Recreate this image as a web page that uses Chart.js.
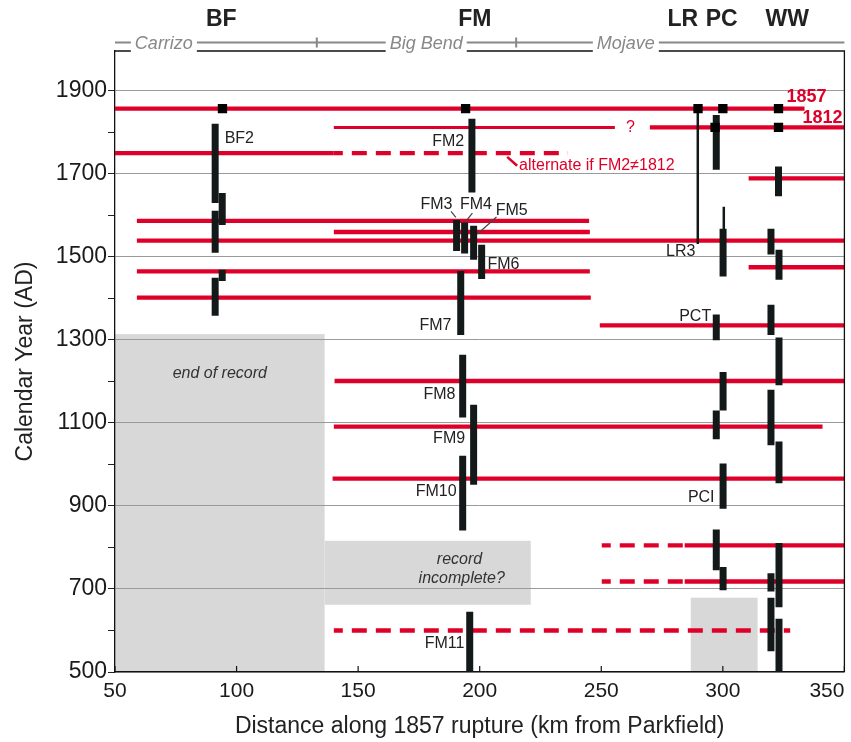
<!DOCTYPE html>
<html>
<head>
<meta charset="utf-8">
<script src="https://cdn.jsdelivr.net/npm/chart.js@4.4.0/dist/chart.umd.min.js"></script>
<style>
  html, body { margin: 0; background: #fff; }
  canvas { display: block; }
</style>
</head>
<body>
<canvas id="chart" width="851" height="742"></canvas>
<script>
// axis ticks
const xTicks = [50, 100, 150, 200, 250, 300, 350];
const yTicks = [500, 600, 700, 800, 900, 1000, 1100, 1200, 1300, 1400, 1500, 1600, 1700, 1800, 1900];
const yLabelled = [500, 700, 900, 1100, 1300, 1500, 1700, 1900];

// ruptures: [year, from km, to km]
const ruptures = [
  [1857, 50, 333.6], [1812, 270, 350], [1750, 50, 140], [1689, 310.6, 350],
  [1587, 59, 245], [1560, 140, 245.3], [1539, 59, 350], [1475, 310.6, 350],
  [1465, 59, 245.3], [1402, 59, 245.7], [1335, 249.4, 350], [1201, 140.3, 350],
  [1091, 140, 341], [966, 139.5, 350], [805, 284.3, 350], [718, 284.3, 350]
];
const ruptureUncertain = [[1812, 140, 255.6]];
const ruptureDashed = [[1750, 140, 236.3], [805, 250.2, 284.3], [718, 250.2, 284.3], [600, 140, 327.7]];

// dated event windows: [km, young year, old year]
const eventBars = [
  // BF
  [91.2, 1821, 1630], [94.1, 1654, 1577], [91.2, 1611, 1510], [94.1, 1469, 1442], [91.2, 1450, 1358],
  // FM
  [196.8, 1833, 1655], [190.5, 1589, 1514], [193.8, 1583, 1508], [197.5, 1575, 1493], [200.8, 1529, 1447],
  [192.2, 1466, 1312], [193, 1264, 1113], [197.5, 1144, 951], [193, 1021, 841], [195.9, 645, 500],
  // PC
  [297.3, 1842, 1710], [300.1, 1568, 1453], [297.3, 1361, 1299], [300.1, 1223, 1130], [297.3, 1130, 1061],
  [300.1, 1002, 893], [297.3, 843, 745], [300.1, 753, 697],
  // WW
  [322.9, 1718, 1646], [319.8, 1568, 1506], [323.1, 1517, 1445], [319.8, 1385, 1312], [323.1, 1306, 1191],
  [319.8, 1180, 1046], [323.1, 1055, 955], [323.1, 811, 656], [319.8, 738, 694], [319.8, 679, 550], [323.1, 628, 500]
];
const thinBars = [[289.7, 1857, 1531], [300.4, 1621, 1457]];
const squares1857 = [94.2, 194.2, 289.8, 300, 322.9];
const squares1812 = [296.8, 322.9];

// shaded: [from km, to km, from year, to year]
const grayBoxes = [[50, 136.2, 500, 1314], [136.2, 221, 662, 816], [286.8, 314.3, 500, 679]];

const sites = [['BF', 93.7], ['FM', 198], ['LR', 283.5], ['PC', 299.5], ['WW', 326.5]];
const sections = [['Carrizo', 70.1], ['Big Bend', 178], ['Mojave', 260.1]];
const sectionBreaks = [133, 215];

// [text, km, year, align]
const eventLabels = [
  ['BF2', 95.1, 1784, 'left'], ['FM2', 193.6, 1778, 'right'], ['FM3', 188.8, 1625, 'right'],
  ['FM4', 191.9, 1625, 'left'], ['FM5', 206.6, 1611, 'left'], ['FM6', 203.2, 1481, 'left'],
  ['LR3', 288.7, 1513, 'right'], ['FM7', 188.4, 1334, 'right'], ['PCT', 295.2, 1357, 'right'],
  ['FM8', 190, 1168, 'right'], ['FM9', 194, 1062, 'right'], ['FM10', 190.5, 934, 'right'],
  ['PCI', 296.6, 919, 'right'], ['FM11', 193.7, 568, 'right']
];
const noteLabels = [['end of record', 93.1, 1220], ['record', 191.7, 772], ['incomplete?', 192.6, 725]];
const redLabels = [['?', 262, 1811, 'center'], ['alternate if FM2\u22601812', 216.2, 1720, 'left']];
const yearLabels = [['1857', 326.2, 1884], ['1812', 332.8, 1834]];
// [km1, year1, km2, year2]
const leaders = [[188.2, 1609.5, 190.2, 1595], [197, 1605.7, 194, 1584], [206.9, 1596, 199.1, 1555]];
const redLeaders = [[211.3, 1741, 215.4, 1719.5]];

const RED = '#df0029';
const BLACK = '#131819';
const FONT = "'Liberation Sans', Arial, Helvetica, sans-serif";
Chart.defaults.font.family = FONT;

const datasets = [];
datasets.push({
  type: 'scatter',
  data: squares1857.map(km => ({x: km, y: 1857})).concat(squares1812.map(km => ({x: km, y: 1812}))),
  pointStyle: 'rect', pointRadius: 6.6, backgroundColor: '#000', borderWidth: 0, order: 0
});
eventBars.forEach(([km, a, b]) => datasets.push({
  data: [{x: km, y: a}, {x: km, y: b}],
  borderColor: BLACK, borderWidth: 7, borderCapStyle: 'butt', pointRadius: 0, order: 1
}));
thinBars.forEach(([km, a, b]) => datasets.push({
  data: [{x: km, y: a}, {x: km, y: b}],
  borderColor: BLACK, borderWidth: 2.5, borderCapStyle: 'butt', pointRadius: 0, order: 1
}));
ruptures.forEach(([yr, a, b]) => datasets.push({
  data: [{x: a, y: yr}, {x: b, y: yr}],
  borderColor: RED, borderWidth: 4.3, borderCapStyle: 'butt', pointRadius: 0, order: 2
}));
ruptureUncertain.forEach(([yr, a, b]) => datasets.push({
  data: [{x: a, y: yr}, {x: b, y: yr}],
  borderColor: RED, borderWidth: 3, borderCapStyle: 'butt', pointRadius: 0, order: 2
}));
ruptureDashed.forEach(([yr, a, b]) => datasets.push({
  data: [{x: a, y: yr}, {x: b, y: yr}],
  borderColor: RED, borderWidth: 4.3, borderDash: [15, 9], borderDashOffset: 6,
  borderCapStyle: 'butt', pointRadius: 0, order: 2
}));

const decor = {
  id: 'decor',
  beforeDraw(chart) {
    const {ctx, scales: {x, y}} = chart;
    ctx.save();
    ctx.fillStyle = '#d8d8d8';
    grayBoxes.forEach(([k1, k2, y1, y2]) => {
      const px1 = x.getPixelForValue(k1), px2 = x.getPixelForValue(k2);
      const py1 = y.getPixelForValue(y2), py2 = y.getPixelForValue(y1);
      ctx.fillRect(px1, py1, px2 - px1, py2 - py1);
    });
    ctx.restore();
  },
  afterDatasetsDraw(chart) {
    const {ctx, scales: {x, y}} = chart;
    ctx.save();
    ctx.textBaseline = 'middle';
    ctx.fillStyle = '#222';
    ctx.font = '16px ' + FONT;
    eventLabels.forEach(([t, km, yr, al]) => {
      ctx.textAlign = al;
      ctx.fillText(t, x.getPixelForValue(km), y.getPixelForValue(yr));
    });
    ctx.fillStyle = '#333';
    ctx.font = 'italic 16px ' + FONT;
    ctx.textAlign = 'center';
    noteLabels.forEach(([t, km, yr]) => ctx.fillText(t, x.getPixelForValue(km), y.getPixelForValue(yr)));
    ctx.fillStyle = RED;
    ctx.font = '16px ' + FONT;
    redLabels.forEach(([t, km, yr, al]) => {
      ctx.textAlign = al;
      ctx.fillText(t, x.getPixelForValue(km), y.getPixelForValue(yr));
    });
    ctx.font = 'bold 18px ' + FONT;
    ctx.textAlign = 'left';
    yearLabels.forEach(([t, km, yr]) => ctx.fillText(t, x.getPixelForValue(km), y.getPixelForValue(yr)));

    ctx.strokeStyle = '#444';
    ctx.lineWidth = 1.2;
    leaders.forEach(([k1, y1, k2, y2]) => {
      ctx.beginPath();
      ctx.moveTo(x.getPixelForValue(k1), y.getPixelForValue(y1));
      ctx.lineTo(x.getPixelForValue(k2), y.getPixelForValue(y2));
      ctx.stroke();
    });
    ctx.strokeStyle = RED;
    ctx.lineWidth = 2.5;
    redLeaders.forEach(([k1, y1, k2, y2]) => {
      ctx.beginPath();
      ctx.moveTo(x.getPixelForValue(k1), y.getPixelForValue(y1));
      ctx.lineTo(x.getPixelForValue(k2), y.getPixelForValue(y2));
      ctx.stroke();
    });
    ctx.restore();
  },
  afterDraw(chart) {
    const {ctx, chartArea: a, scales: {x}} = chart;
    ctx.save();
    // frame top and right
    ctx.strokeStyle = '#111';
    ctx.lineWidth = 1.3;
    ctx.beginPath();
    ctx.moveTo(a.left, a.top);
    ctx.lineTo(a.right, a.top);
    ctx.lineTo(a.right, a.bottom);
    ctx.stroke();
    // inward x ticks
    ctx.lineWidth = 1.2;
    xTicks.forEach(v => {
      const px = x.getPixelForValue(v);
      ctx.beginPath();
      ctx.moveTo(px, a.bottom);
      ctx.lineTo(px, a.bottom - 6);
      ctx.stroke();
    });
    // section bar
    const sy = a.top - 8.5;
    ctx.strokeStyle = '#888';
    ctx.lineWidth = 2;
    ctx.beginPath();
    ctx.moveTo(x.getPixelForValue(50), sy);
    ctx.lineTo(x.getPixelForValue(350), sy);
    sectionBreaks.forEach(v => {
      const px = x.getPixelForValue(v);
      ctx.moveTo(px, sy - 5);
      ctx.lineTo(px, sy + 5);
    });
    ctx.stroke();
    ctx.font = 'italic 18px ' + FONT;
    ctx.textAlign = 'center';
    ctx.textBaseline = 'middle';
    sections.forEach(([t, km]) => {
      const px = x.getPixelForValue(km);
      const w = ctx.measureText(t).width;
      ctx.fillStyle = '#fff';
      ctx.fillRect(px - w / 2 - 4, sy - 10, w + 8, 20);
      ctx.fillStyle = '#888';
      ctx.fillText(t, px, sy + 1);
    });
    // site headings
    ctx.fillStyle = '#222';
    ctx.font = 'bold 23px ' + FONT;
    sites.forEach(([t, km]) => ctx.fillText(t, x.getPixelForValue(km), 20));
    ctx.restore();
  }
};

new Chart(document.getElementById('chart'), {
  type: 'line',
  data: {datasets},
  options: {
    responsive: false,
    animation: false,
    events: [],
    layout: {padding: {top: 51, right: 5, bottom: 0, left: 0}},
    plugins: {legend: {display: false}, tooltip: {enabled: false}},
    scales: {
      x: {
        type: 'linear', min: 50, max: 350,
        afterBuildTicks: s => { s.ticks = xTicks.map(v => ({value: v})); },
        afterFit: s => { s.height = 70; s.paddingLeft = 0; s.paddingRight = 0; },
        grid: {display: false},
        border: {display: true, color: '#111', width: 1.3},
        ticks: {
          autoSkip: false, maxRotation: 0, padding: -1, color: '#1a1a1a', font: {size: 21},
          callback: v => v === 350 ? '350      ' : String(v)
        },
        title: {
          display: true, text: 'Distance along 1857 rupture (km from Parkfield)',
          color: '#222', font: {size: 23, lineHeight: 1}, padding: {top: 0, bottom: 4}
        }
      },
      y: {
        type: 'linear', min: 500, max: 1996,
        afterBuildTicks: s => { s.ticks = yTicks.map(v => ({value: v})); },
        afterFit: s => { s.width = 115; s.paddingTop = 0; s.paddingBottom = 0; },
        grid: {
          color: c => c.tick && yLabelled.includes(c.tick.value) ? '#9a9a9a' : 'rgba(0,0,0,0)',
          tickColor: '#222', tickLength: 7, lineWidth: 1
        },
        border: {display: true, color: '#111', width: 1.3},
        ticks: {
          padding: 1, color: '#1a1a1a', font: {size: 23},
          callback: v => yLabelled.includes(v) ? String(v) : ''
        },
        title: {
          display: true, text: 'Calendar Year (AD)',
          color: '#222', font: {size: 23, lineHeight: 1}, padding: {top: 14, bottom: 0}
        }
      }
    }
  },
  plugins: [decor]
});
</script>
</body>
</html>
